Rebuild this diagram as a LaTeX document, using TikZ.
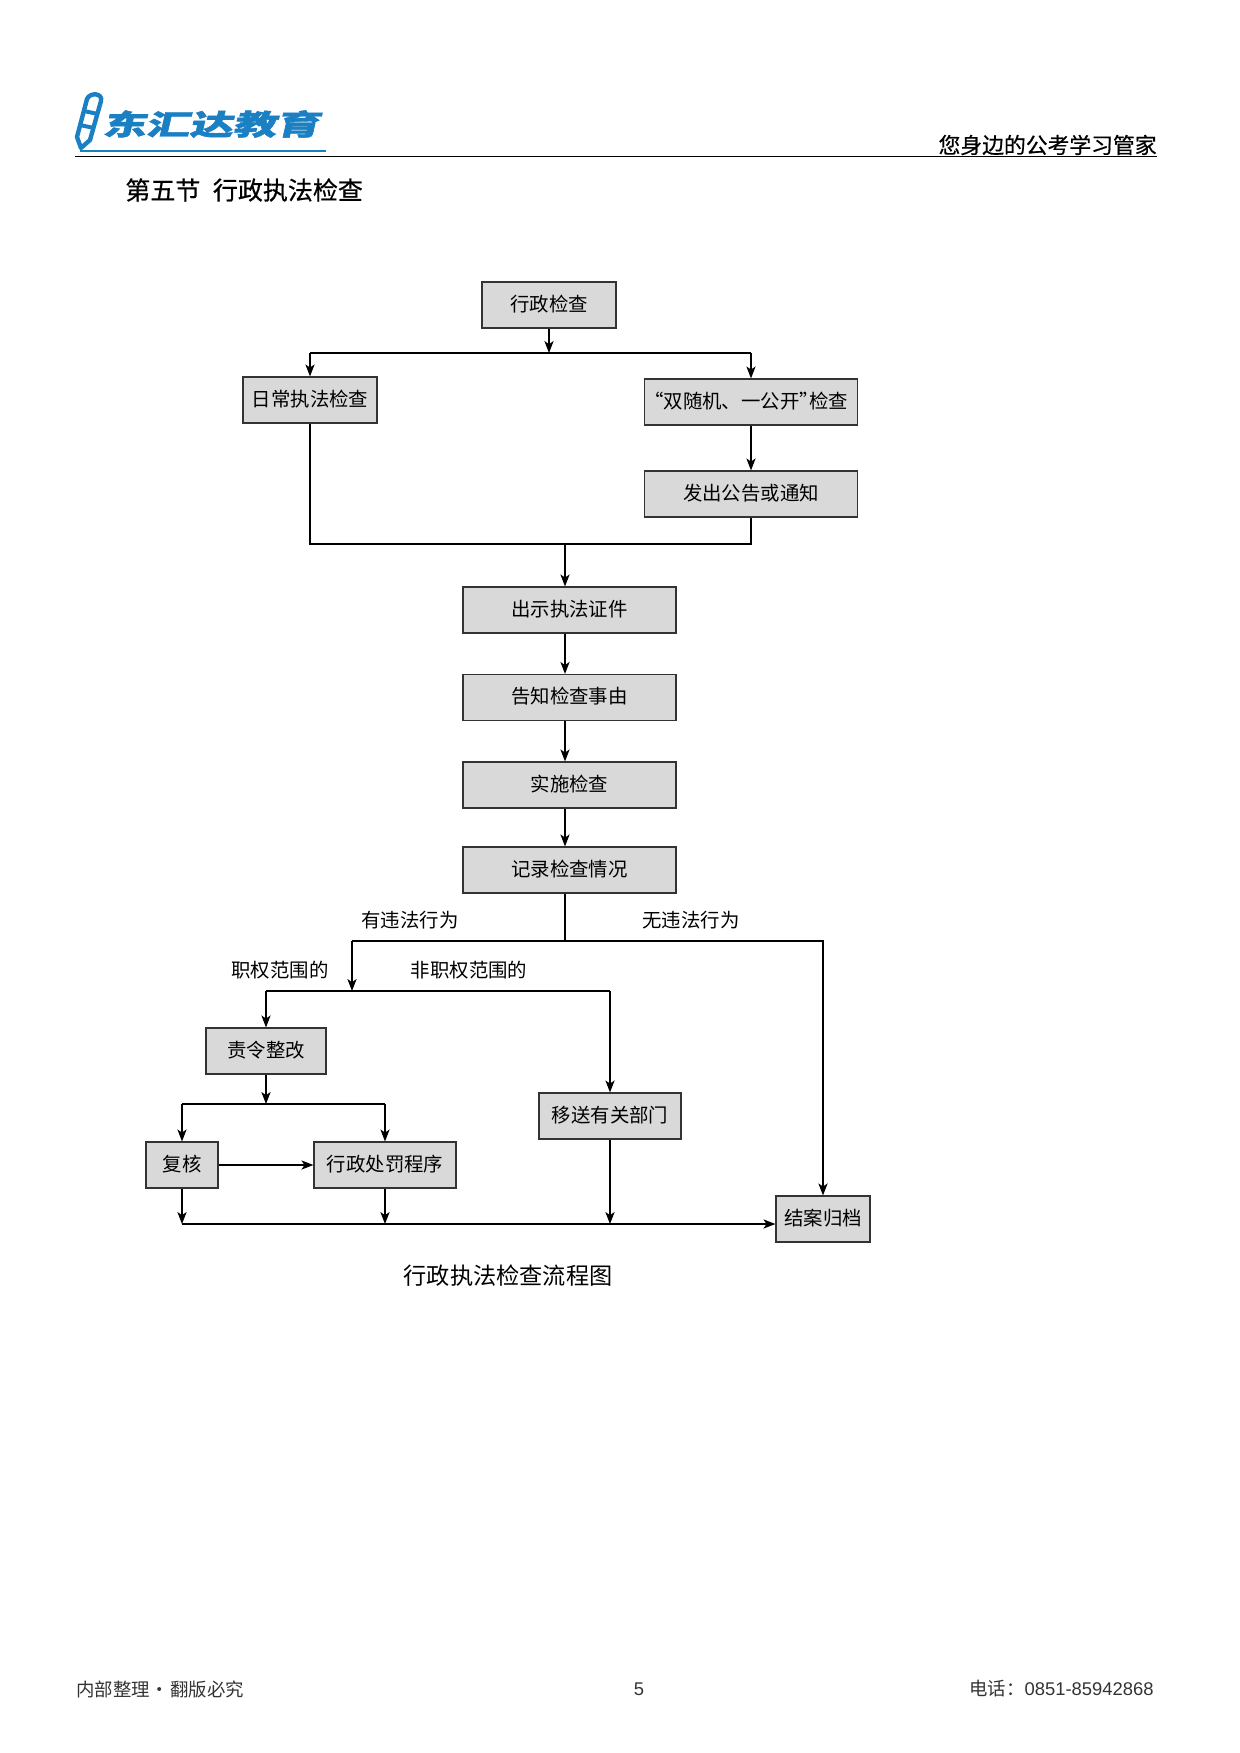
\documentclass[tikz,border=0pt]{standalone}
\usepackage{fontspec}
\usetikzlibrary{arrows.meta}
\setmainfont{Noto Sans CJK SC}
\newfontfamily\logofont[FakeSlant=0.15,FakeBold=1.5]{Noto Sans CJK SC Black}
\newfontfamily\headfont[FakeBold=0.6]{Noto Sans CJK SC}
\newfontfamily\digitfont{Liberation Sans}
\definecolor{boxgray}{HTML}{D9D9D9}
\definecolor{logoblue}{HTML}{1B7FC4}
\definecolor{footgray}{HTML}{333333}
\tikzset{
	flowbox/.style={draw=black!80, fill=boxgray, line width=0.6pt, minimum height=23pt, inner sep=0pt, text height=8pt, text depth=2pt, font=\fontsize{9.7}{11}\selectfont},
	flowlabel/.style={inner sep=0pt, font=\fontsize{9.7}{11}\selectfont},
	flowline/.style={line width=0.55pt},
	footnote/.style={inner sep=0pt, text=footgray, font=\fontsize{9.2}{11}\selectfont}
}
\begin{document}
\begin{tikzpicture}[x=0.5pt, y=-0.5pt, >={Stealth[length=6pt, width=4.6pt, inset=1.6pt]}]
	\useasboundingbox (0, 0) rectangle (1240, 1753);

	% page head
	\draw[line width=0.6pt] (75, 156.5) -- (1157, 156.5);
	\draw[logoblue, line width=0.8pt] (80, 151) -- (326, 151);
	\draw[logoblue, line width=2.2pt, line join=round] (87, 99) .. controls (90, 92) and (103, 93) .. (101, 101) -- (90, 140) -- (81, 148) -- (77, 137) -- cycle;
	\draw[logoblue, line width=2pt] (84, 111) -- (98, 114);
	\draw[logoblue, line width=2pt] (80, 125) -- (94, 128);
	\node (logo) at (211, 124) {\scalebox{1.53}[1]{\textcolor{logoblue}{\logofont\fontsize{14.2}{15}\selectfont 东汇达教育}}};
	\node[anchor=east, inner sep=0pt] (motto) at (1157, 145) {\headfont\fontsize{10.9}{12}\selectfont 您身边的公考学习管家};
	\node[anchor=west, inner sep=0pt] (section) at (125, 190) {\headfont\fontsize{12.5}{14}\selectfont 第五节\hspace{0.5em}行政执法检查};

	% boxes
	\node[flowbox, minimum width=67pt] (check) at (549, 305) {行政检查};
	\node[flowbox, minimum width=67pt] (daily) at (310, 400) {日常执法检查};
	\node[flowbox, minimum width=106.5pt] (random) at (751, 402) {“双随机、一公开”\kern-0.5em 检查\kern0.5em};
	\node[flowbox, minimum width=106.5pt] (notice) at (751, 494) {发出公告或通知};
	\node[flowbox, minimum width=106.5pt] (badge) at (569.5, 610) {出示执法证件};
	\node[flowbox, minimum width=106.5pt] (reason) at (569.5, 697.5) {告知检查事由};
	\node[flowbox, minimum width=106.5pt] (inspect) at (569.5, 785) {实施检查};
	\node[flowbox, minimum width=106.5pt] (record) at (569.5, 870) {记录检查情况};
	\node[flowbox, minimum width=60pt] (correct) at (266, 1051) {责令整改};
	\node[flowbox, minimum width=71pt] (transfer) at (610, 1116) {移送有关部门};
	\node[flowbox, minimum width=36pt] (review) at (182, 1165) {复核};
	\node[flowbox, minimum width=71pt] (penalty) at (385, 1165) {行政处罚程序};
	\node[flowbox, minimum width=47pt] (archive) at (823, 1219) {结案归档};

	% junctions
	\coordinate (split) at (549, 353);
	\coordinate (merge) at (565, 544);
	\coordinate (fork) at (565, 941);
	\coordinate (illegal) at (352, 941);
	\coordinate (scope) at (352, 991);
	\coordinate (rectify) at (266, 1104);
	\coordinate (bus) at (182, 1224);

	% connectors
	\draw[flowline, ->] (check) -- (split);
	\draw[flowline, ->] (daily.north |- split) -- (daily.north);
	\draw[flowline, ->] (random.north |- split) -- (random.north);
	\draw[flowline] (daily.north |- split) -- (random.north |- split);
	\draw[flowline, ->] (random) -- (notice);
	\draw[flowline] (daily.south) |- (merge) -| (notice.south);
	\draw[flowline, ->] (merge) -- (merge |- badge.north);
	\draw[flowline, ->] (merge |- badge.south) -- (merge |- reason.north);
	\draw[flowline, ->] (merge |- reason.south) -- (merge |- inspect.north);
	\draw[flowline, ->] (merge |- inspect.south) -- (merge |- record.north);
	\draw[flowline] (merge |- record.south) -- (fork);
	\draw[flowline, ->] (illegal) -| (archive.north);
	\draw[flowline, ->] (illegal) -- (scope);
	\draw[flowline, ->] (scope -| correct.north) -- (correct.north);
	\draw[flowline, ->] (scope -| transfer.north) -- (transfer.north);
	\draw[flowline] (scope -| correct.north) -- (scope -| transfer.north);
	\draw[flowline, ->] (correct) -- (rectify);
	\draw[flowline, ->] (rectify -| review.north) -- (review.north);
	\draw[flowline, ->] (rectify -| penalty.north) -- (penalty.north);
	\draw[flowline] (rectify -| review.north) -- (rectify -| penalty.north);
	\draw[flowline, ->] (review) -- (penalty);
	\draw[flowline, ->] (review) -- (bus);
	\draw[flowline, ->] (penalty.south) -- (bus -| penalty.south);
	\draw[flowline, ->] (transfer.south) -- (bus -| transfer.south);
	\draw[flowline, ->] (bus) -- (bus -| archive.west);

	% labels
	\node[flowlabel] (yes) at (410, 920) {有违法行为};
	\node[flowlabel] (no) at (691, 920) {无违法行为};
	\node[flowlabel] (inside) at (280, 970) {职权范围的};
	\node[flowlabel] (outside) at (469, 970) {非职权范围的};
	\node[inner sep=0pt, font=\fontsize{11.6}{13}\selectfont] (caption) at (508, 1276) {行政执法检查流程图};

	% page foot
	\node[footnote, anchor=west] (inner) at (76, 1689) {内部整理\hspace{0.05em}•\hspace{0.05em}翻版必究};
	\node[footnote] (page) at (639, 1689) {\digitfont 5};
	\node[footnote, anchor=east] (phone) at (1154, 1689) {电话：{\digitfont 0851-85942868}};
\end{tikzpicture}
\end{document}
